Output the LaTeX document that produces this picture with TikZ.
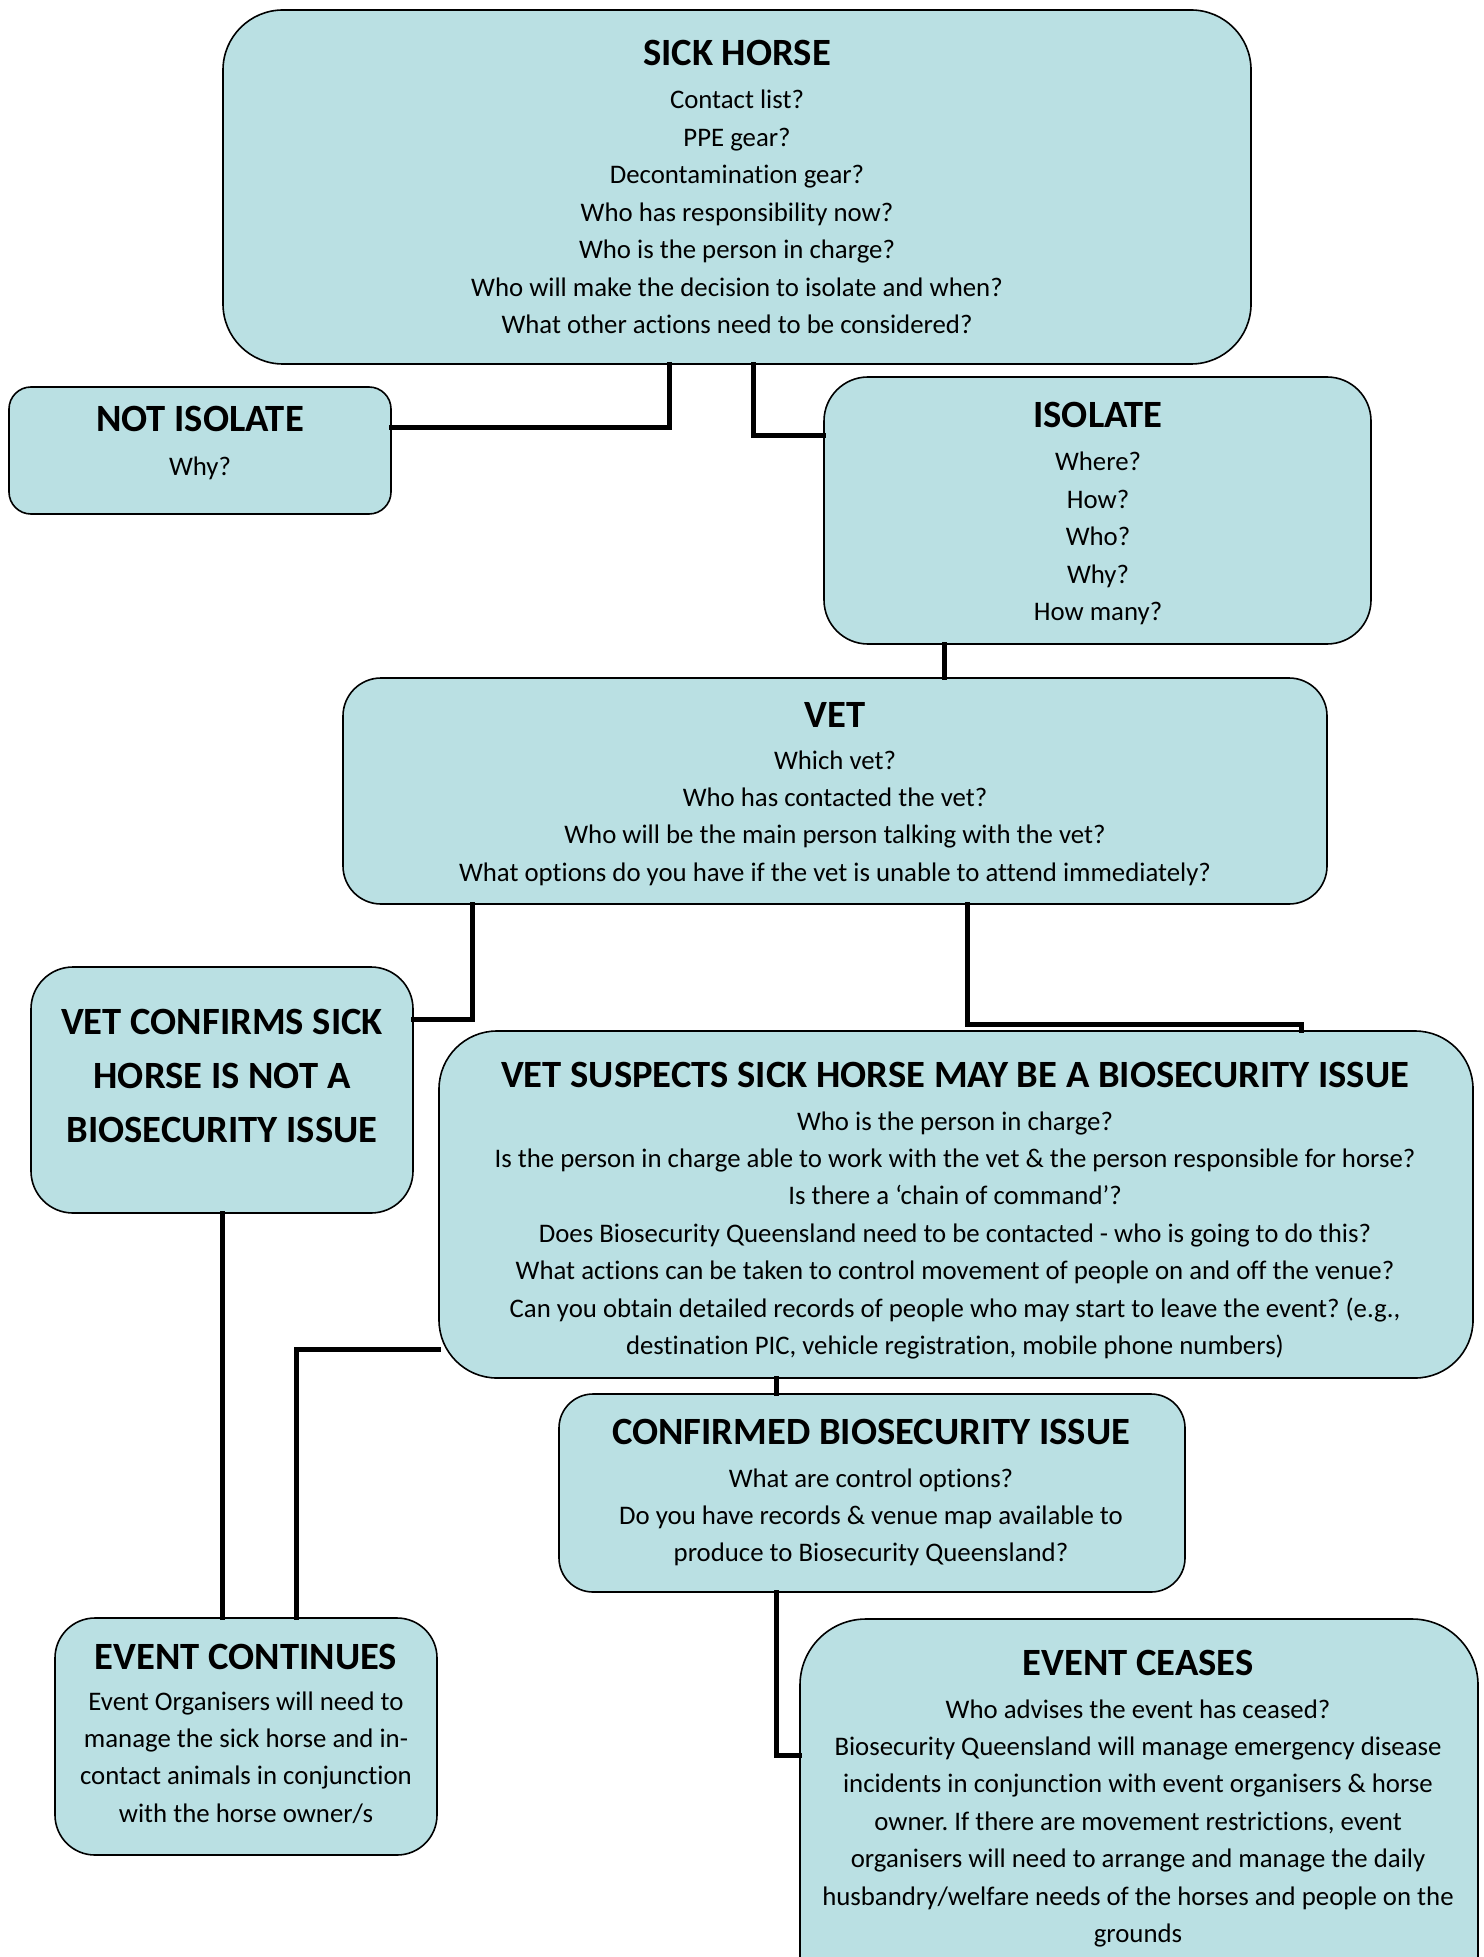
\documentclass[tikz,border=0pt]{standalone}
\usepackage{fontspec}
\setmainfont{Carlito}[Ligatures=NoCommon]
\usetikzlibrary{fit}
\definecolor{boxfill}{RGB}{186,224,227}
\frenchspacing
\newcommand\titlef{\bfseries\fontsize{19.3}{27}\selectfont}
\newcommand\bodyf{\fontsize{13.4}{18.72}\selectfont}
\newcommand\blines[1]{\parbox[t]{560pt}{\centering\bodyf #1}}
\tikzset{
  box/.style={draw=black, line width=0.8pt, fill=boxfill, inner sep=0pt},
  ttl/.style={anchor=base, inner sep=0pt, font=\titlef},
  bdy/.style={anchor=base, inner sep=0pt},
  conn/.style={draw=black, line width=2.5pt, line cap=rect}
}
\begin{document}
\begin{tikzpicture}[x=0.5pt,y=-0.5pt]
\useasboundingbox (0,0) rectangle (1483,1957);
\clip (0,0) rectangle (1483,1957);
% boxes
\node[box, rounded corners=30pt, fit={(223,10) (1251,364)}] (sh) {};
\node[box, rounded corners=11pt, fit={(9,387) (391,514)}] (ni) {};
\node[box, rounded corners=22pt, fit={(824,377) (1371,644)}] (iso) {};
\node[box, rounded corners=19pt, fit={(343,678) (1327,904)}] (vet) {};
\node[box, rounded corners=21pt, fit={(31,967) (413,1213)}] (vc) {};
\node[box, rounded corners=29pt, fit={(439,1031) (1473,1378)}] (vs) {};
\node[box, rounded corners=17pt, fit={(559,1394) (1185,1592)}] (cb) {};
\node[box, rounded corners=20pt, fit={(55,1618) (437,1855)}] (ect) {};
\node[box, rounded corners=33pt, fit={(800,1619) (1478,2030)}] (ece) {};
% texts
\node[ttl] (sh-t) at (737,66) {SICK HORSE};
\node[bdy] (sh-b) at (737,109) {\blines{Contact list?\\PPE gear?\\Decontamination gear?\\Who has responsibility now?\\Who is the person in charge?\\Who will make the decision to isolate and when?\\What other actions need to be considered?}};
\node[ttl] (ni-t) at (200,431) {NOT ISOLATE};
\node[bdy] (ni-b) at (200,475) {\blines{Why?}};
\node[ttl] (iso-t) at (1098,428) {ISOLATE};
\node[bdy] (iso-b) at (1098,471) {\blines{Where?\\How?\\Who?\\Why?\\How many?}};
\node[ttl] (vet-t) at (835,727) {VET};
\node[bdy] (vet-b) at (835,769) {\blines{Which vet?\\Who has contacted the vet?\\Who will be the main person talking with the vet?\\What options do you have if the vet is unable to attend immediately?}};
\node[bdy] (vc-t) at (222,1034) {\parbox[t]{300pt}{\centering\titlef VET CONFIRMS SICK\\HORSE IS NOT A\\BIOSECURITY ISSUE}};
\node[ttl] (vs-t) at (955,1087) {VET SUSPECTS SICK HORSE MAY BE A BIOSECURITY ISSUE};
\node[bdy] (vs-b) at (955,1130) {\blines{Who is the person in charge?\\Is the person in charge able to work with the vet \& the person responsible for horse?\\Is there a ‘chain of command’?\\Does Biosecurity Queensland need to be contacted - who is going to do this?\\What actions can be taken to control movement of people on and off the venue?\\Can you obtain detailed records of people who may start to leave the event? (e.g.,\\destination PIC, vehicle registration, mobile phone numbers)}};
\node[ttl] (cb-t) at (871,1444) {CONFIRMED BIOSECURITY ISSUE};
\node[bdy] (cb-b) at (871,1487) {\blines{What are control options?\\Do you have records \& venue map available to\\produce to Biosecurity Queensland?}};
\node[ttl] (ect-t) at (246,1669) {EVENT CONTINUES};
\node[bdy] (ect-b) at (246,1710) {\blines{Event Organisers will need to\\manage the sick horse and in-\\contact animals in conjunction\\with the horse owner/s}};
\node[ttl] (ece-t) at (1138,1675) {EVENT CEASES};
\node[bdy] (ece-b) at (1138,1718) {\blines{Who advises the event has ceased?\\Biosecurity Queensland will manage emergency disease\\incidents in conjunction with event organisers \& horse\\owner. If there are movement restrictions, event\\organisers will need to arrange and manage the daily\\husbandry/welfare needs of the horses and people on the\\grounds}};
% connector bends
\coordinate (k1) at (669,428);
\coordinate (k2) at (753,436);
\coordinate (k3) at (944,660);
\coordinate (k4) at (472,1019);
\coordinate (k5) at (967,1024);
\coordinate (k5b) at (1301,1024);
\coordinate (k6) at (222,1300);
\coordinate (k7) at (296,1349);
\coordinate (k8) at (776,1385);
\coordinate (k9) at (776,1755);
% connectors
\draw[conn] (sh.south -| k1) -- (k1) -- (k1 -| ni.east);
\draw[conn] (sh.south -| k2) -- (k2) -- (k2 -| iso.west);
\draw[conn] (iso.south -| k3) -- (vet.north -| k3);
\draw[conn] (vet.south -| k4) -- (k4) -- (k4 -| vc.east);
\draw[conn] (vet.south -| k5) -- (k5) -- (k5b) -- (vs.north -| k5b);
\draw[conn] (vc.south -| k6) -- (ect.north -| k6);
\draw[conn] (k7 -| vs.west) -- (k7) -- (ect.north -| k7);
\draw[conn] (vs.south -| k8) -- (cb.north -| k8);
\draw[conn] (cb.south -| k9) -- (k9) -- (k9 -| ece.west);
\end{tikzpicture}
\end{document}
